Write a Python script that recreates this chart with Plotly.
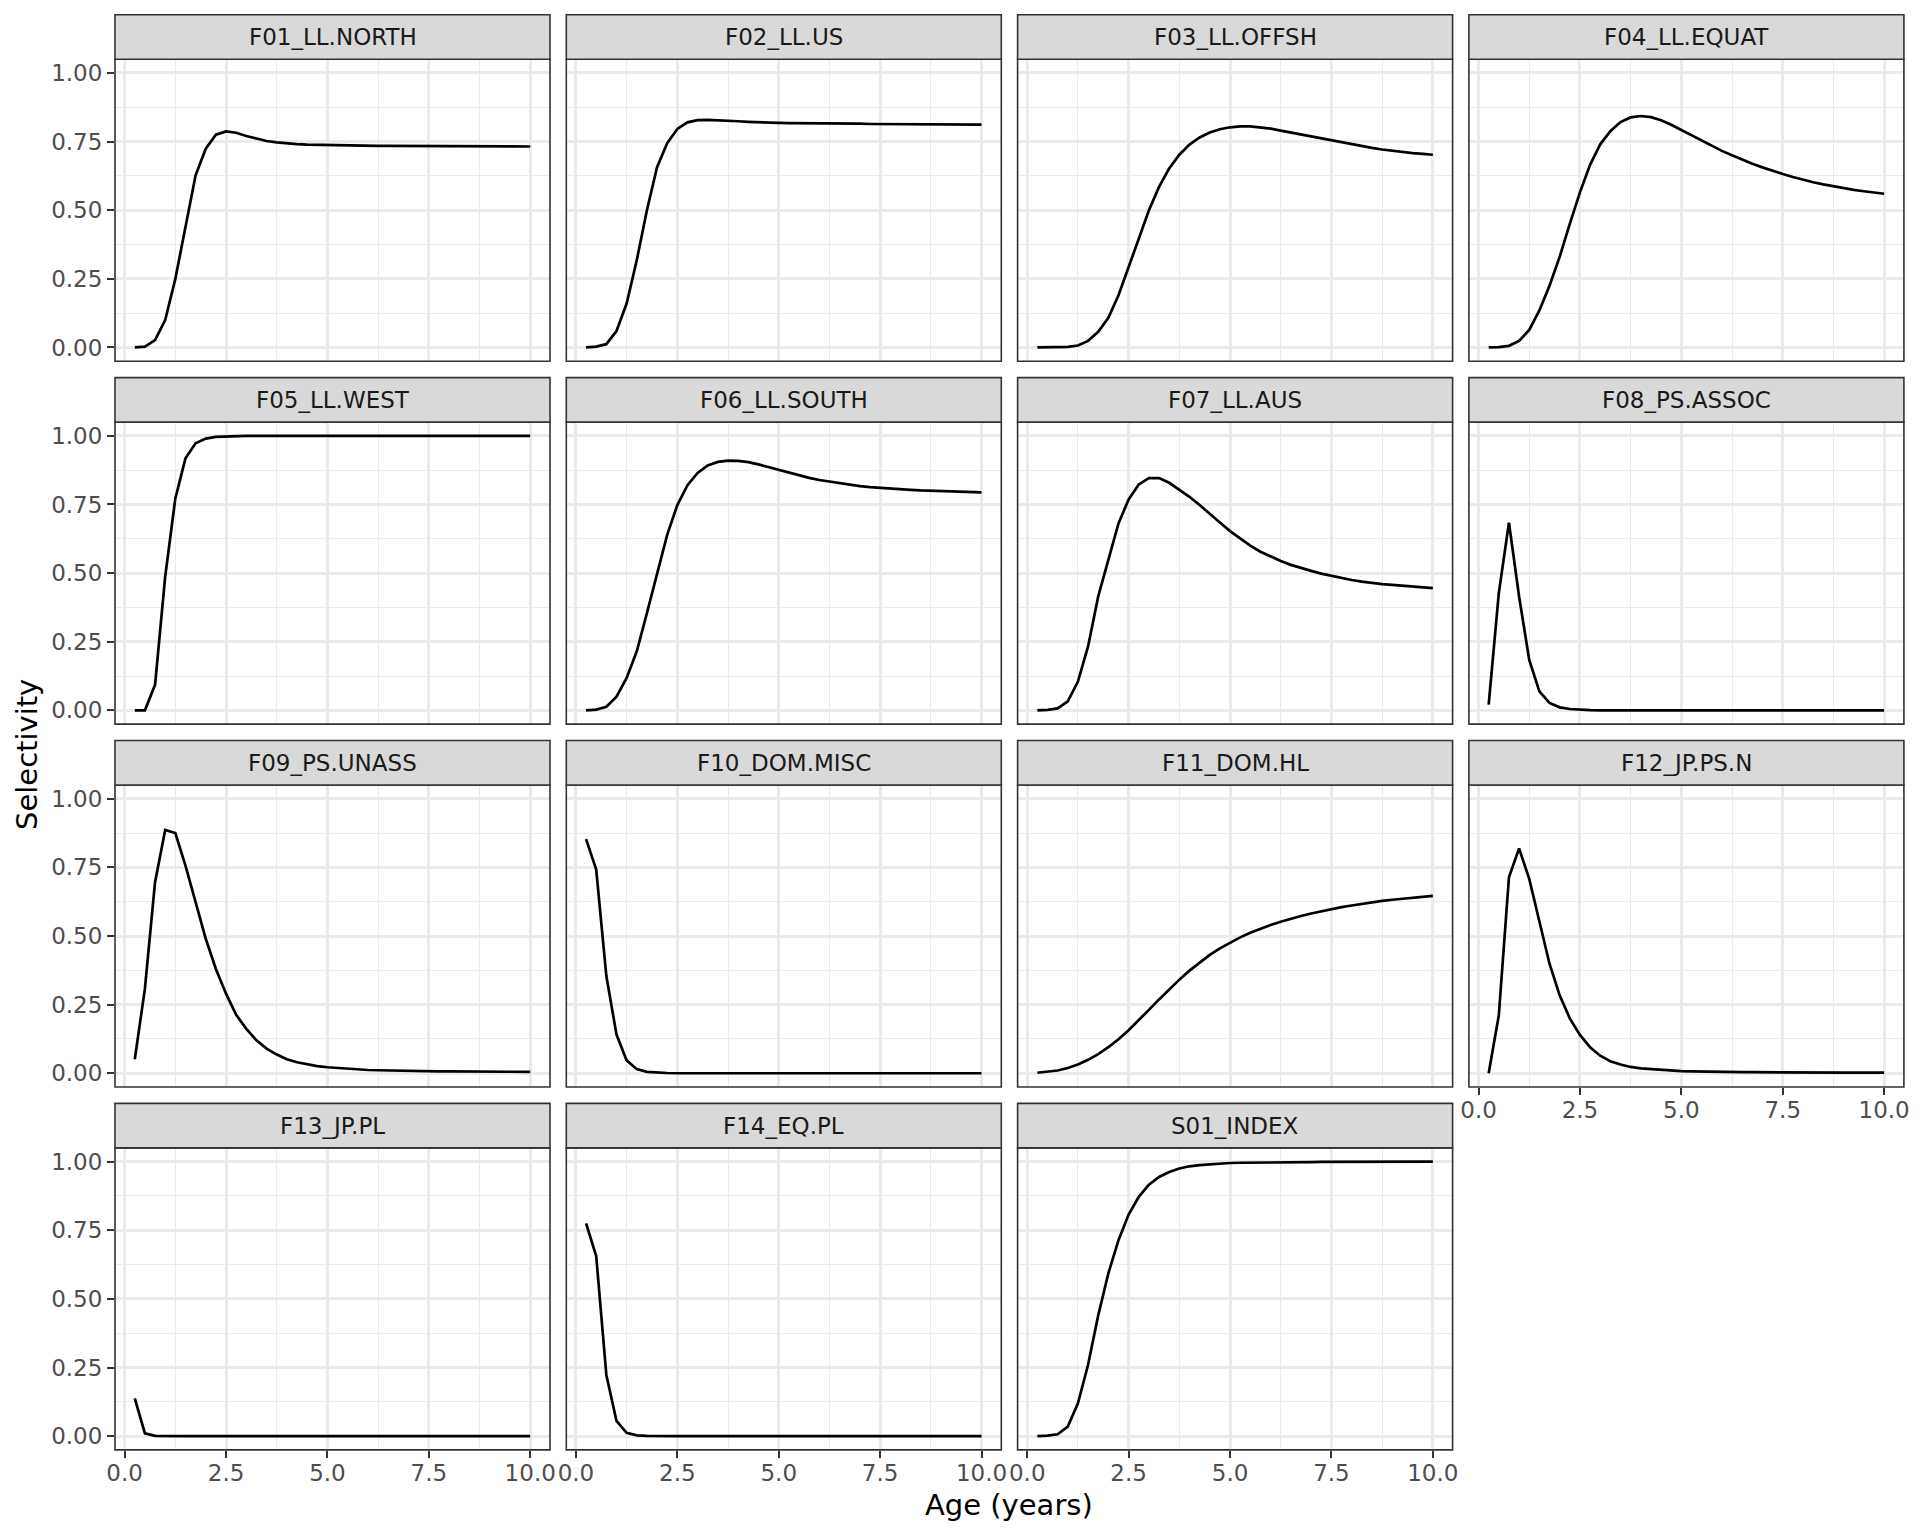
import plotly.graph_objects as go

W, H = 1920, 1536

age = [0.25, 0.5, 0.75, 1.0, 1.25, 1.5, 1.75, 2.0, 2.25, 2.5,
       2.75, 3.0, 3.25, 3.5, 3.75, 4.0, 4.25, 4.5, 4.75, 5.0,
       5.25, 5.5, 5.75, 6.0, 6.25, 6.5, 6.75, 7.0, 7.25, 7.5,
       7.75, 8.0, 8.25, 8.5, 8.75, 9.0, 9.25, 9.5, 9.75, 10.0]

panels = ["F01_LL.NORTH", "F02_LL.US", "F03_LL.OFFSH", "F04_LL.EQUAT",
          "F05_LL.WEST", "F06_LL.SOUTH", "F07_LL.AUS", "F08_PS.ASSOC",
          "F09_PS.UNASS", "F10_DOM.MISC", "F11_DOM.HL", "F12_JP.PS.N",
          "F13_JP.PL", "F14_EQ.PL", "S01_INDEX"]

sel_F01 = [0.000, 0.003, 0.027, 0.100, 0.250, 0.445, 0.627, 0.724, 0.775, 0.787,
           0.782, 0.770, 0.760, 0.752, 0.747, 0.743, 0.741, 0.739, 0.738, 0.737,
           0.736, 0.736, 0.735, 0.735, 0.734, 0.734, 0.734, 0.733, 0.733, 0.733,
           0.733, 0.733, 0.732, 0.732, 0.732, 0.732, 0.732, 0.732, 0.732, 0.732]
sel_F02 = [0.000, 0.003, 0.012, 0.060, 0.160, 0.318, 0.500, 0.657, 0.744, 0.796,
           0.820, 0.828, 0.829, 0.828, 0.826, 0.824, 0.822, 0.820, 0.819, 0.818,
           0.817, 0.817, 0.816, 0.816, 0.815, 0.815, 0.815, 0.815, 0.814, 0.814,
           0.814, 0.813, 0.813, 0.813, 0.813, 0.812, 0.812, 0.812, 0.812, 0.812]
sel_F03 = [0.000, 0.000, 0.000, 0.002, 0.007, 0.024, 0.057, 0.108, 0.190, 0.290,
           0.396, 0.500, 0.585, 0.652, 0.702, 0.739, 0.765, 0.783, 0.795, 0.802,
           0.805, 0.805, 0.802, 0.797, 0.790, 0.783, 0.776, 0.768, 0.761, 0.754,
           0.746, 0.739, 0.733, 0.727, 0.721, 0.716, 0.712, 0.708, 0.705, 0.702]
sel_F04 = [0.000, 0.001, 0.006, 0.024, 0.064, 0.135, 0.225, 0.330, 0.450, 0.565,
           0.665, 0.740, 0.788, 0.821, 0.838, 0.843, 0.839, 0.828, 0.811, 0.792,
           0.772, 0.752, 0.733, 0.716, 0.700, 0.684, 0.669, 0.656, 0.643, 0.632,
           0.621, 0.611, 0.602, 0.594, 0.587, 0.580, 0.574, 0.569, 0.564, 0.560]
sel_F05 = [0.000, 0.000, 0.093, 0.487, 0.772, 0.918, 0.973, 0.990, 0.996, 0.998,
           0.999, 1.000, 1.000, 1.000, 1.000, 1.000, 1.000, 1.000, 1.000, 1.000,
           1.000, 1.000, 1.000, 1.000, 1.000, 1.000, 1.000, 1.000, 1.000, 1.000,
           1.000, 1.000, 1.000, 1.000, 1.000, 1.000, 1.000, 1.000, 1.000, 1.000]
sel_F06 = [0.000, 0.003, 0.013, 0.050, 0.118, 0.215, 0.354, 0.493, 0.639, 0.748,
           0.820, 0.865, 0.892, 0.905, 0.910, 0.909, 0.904, 0.896, 0.886, 0.875,
           0.865, 0.856, 0.847, 0.839, 0.833, 0.827, 0.822, 0.817, 0.813, 0.810,
           0.807, 0.805, 0.803, 0.801, 0.800, 0.799, 0.798, 0.796, 0.795, 0.794]
sel_F07 = [0.000, 0.002, 0.007, 0.033, 0.105, 0.233, 0.415, 0.548, 0.681, 0.768,
           0.823, 0.846, 0.846, 0.829, 0.805, 0.778, 0.748, 0.715, 0.684, 0.653,
           0.627, 0.600, 0.578, 0.560, 0.544, 0.530, 0.518, 0.508, 0.498, 0.490,
           0.482, 0.475, 0.469, 0.464, 0.460, 0.457, 0.454, 0.451, 0.448, 0.445]
sel_F08 = [0.021, 0.427, 0.684, 0.415, 0.184, 0.069, 0.027, 0.011, 0.005, 0.002,
           0.001, 0.000, 0.000, 0.000, 0.000, 0.000, 0.000, 0.000, 0.000, 0.000,
           0.000, 0.000, 0.000, 0.000, 0.000, 0.000, 0.000, 0.000, 0.000, 0.000,
           0.000, 0.000, 0.000, 0.000, 0.000, 0.000, 0.000, 0.000, 0.000, 0.000]
sel_F09 = [0.051, 0.308, 0.696, 0.886, 0.875, 0.756, 0.623, 0.490, 0.380, 0.290,
           0.213, 0.162, 0.120, 0.090, 0.068, 0.051, 0.040, 0.032, 0.026, 0.022,
           0.019, 0.016, 0.014, 0.012, 0.011, 0.010, 0.009, 0.0085, 0.008, 0.0075,
           0.007, 0.007, 0.0065, 0.006, 0.006, 0.006, 0.0055, 0.0055, 0.005, 0.005]
sel_F10 = [0.853, 0.742, 0.354, 0.141, 0.047, 0.015, 0.005, 0.002, 0.001, 0.000,
           0.000, 0.000, 0.000, 0.000, 0.000, 0.000, 0.000, 0.000, 0.000, 0.000,
           0.000, 0.000, 0.000, 0.000, 0.000, 0.000, 0.000, 0.000, 0.000, 0.000,
           0.000, 0.000, 0.000, 0.000, 0.000, 0.000, 0.000, 0.000, 0.000, 0.000]
sel_F11 = [0.002, 0.005, 0.010, 0.019, 0.032, 0.049, 0.070, 0.095, 0.124, 0.157,
           0.193, 0.231, 0.269, 0.306, 0.341, 0.374, 0.404, 0.431, 0.455, 0.476,
           0.495, 0.512, 0.527, 0.540, 0.552, 0.563, 0.573, 0.582, 0.590, 0.598,
           0.605, 0.611, 0.617, 0.623, 0.628, 0.632, 0.636, 0.640, 0.643, 0.646]
sel_F12 = [0.000, 0.211, 0.714, 0.819, 0.708, 0.550, 0.399, 0.284, 0.200, 0.140,
           0.095, 0.064, 0.044, 0.032, 0.023, 0.018, 0.015, 0.012, 0.010, 0.008,
           0.007, 0.006, 0.0055, 0.005, 0.0045, 0.004, 0.004, 0.0035, 0.0035, 0.003,
           0.003, 0.003, 0.0025, 0.0025, 0.0025, 0.002, 0.002, 0.002, 0.002, 0.002]
sel_F13 = [0.138, 0.010, 0.001, 0.000, 0.000, 0.000, 0.000, 0.000, 0.000, 0.000,
           0.000, 0.000, 0.000, 0.000, 0.000, 0.000, 0.000, 0.000, 0.000, 0.000,
           0.000, 0.000, 0.000, 0.000, 0.000, 0.000, 0.000, 0.000, 0.000, 0.000,
           0.000, 0.000, 0.000, 0.000, 0.000, 0.000, 0.000, 0.000, 0.000, 0.000]
sel_F14 = [0.775, 0.656, 0.223, 0.056, 0.012, 0.003, 0.001, 0.000, 0.000, 0.000,
           0.000, 0.000, 0.000, 0.000, 0.000, 0.000, 0.000, 0.000, 0.000, 0.000,
           0.000, 0.000, 0.000, 0.000, 0.000, 0.000, 0.000, 0.000, 0.000, 0.000,
           0.000, 0.000, 0.000, 0.000, 0.000, 0.000, 0.000, 0.000, 0.000, 0.000]
sel_S01 = [0.000, 0.002, 0.007, 0.035, 0.120, 0.260, 0.440, 0.593, 0.714, 0.807,
           0.872, 0.916, 0.944, 0.962, 0.975, 0.983, 0.987, 0.990, 0.993, 0.995,
           0.996, 0.996, 0.997, 0.997, 0.998, 0.998, 0.998, 0.998, 0.999, 0.999,
           0.999, 0.999, 0.999, 0.999, 0.999, 1.000, 1.000, 1.000, 1.000, 1.000]

series = [sel_F01, sel_F02, sel_F03, sel_F04, sel_F05, sel_F06, sel_F07, sel_F08,
          sel_F09, sel_F10, sel_F11, sel_F12, sel_F13, sel_F14, sel_S01]

x_major = [0, 2.5, 5, 7.5, 10]
x_major_labels = ["0.0", "2.5", "5.0", "7.5", "10.0"]
x_minor = [1.25, 3.75, 6.25, 8.75]
y_major = [0, 0.25, 0.5, 0.75, 1.0]
y_major_labels = ["0.00", "0.25", "0.50", "0.75", "1.00"]
y_minor = [0.125, 0.375, 0.625, 0.875]

# layout geometry (pixels)
COL_LEFT0, COL_PITCH, PW = 115.0, 451.3, 435.0
ROW_TOP0, ROW_PITCH, STRIP_H, PH = 14.7, 362.9, 44.5, 302.0
NCOL = 4

FONT = "DejaVu Sans"
GRID = "#EBEBEB"
BORDER = "#333333"

fig = go.Figure()
shapes, annotations = [], []
layout_axes = {}

for i, name in enumerate(panels):
    r, c = divmod(i, NCOL)
    x0 = COL_LEFT0 + c * COL_PITCH
    x1 = x0 + PW
    st = ROW_TOP0 + r * ROW_PITCH
    pt = st + STRIP_H
    pb = pt + PH
    n = i + 1
    xa = "x" if n == 1 else f"x{n}"
    ya = "y" if n == 1 else f"y{n}"
    bottom = (r == 3) or (r == 2 and c == 3)
    left = (c == 0)

    fig.add_trace(go.Scatter(x=age, y=series[i], mode="lines",
                             line=dict(color="black", width=2.7),
                             xaxis=xa, yaxis=ya, showlegend=False,
                             hoverinfo="skip"))

    layout_axes["xaxis" if n == 1 else f"xaxis{n}"] = dict(
        domain=[x0 / W, x1 / W], anchor=ya, range=[-0.2375, 10.4875],
        automargin=False,
        tickmode="array", tickvals=x_major, ticktext=x_major_labels,
        showticklabels=bottom, ticks="outside" if bottom else "",
        ticklen=7, tickwidth=2.4, tickcolor=BORDER, ticklabelstandoff=-5,
        showgrid=True, gridcolor=GRID, gridwidth=2.6,
        minor=dict(tickvals=x_minor, showgrid=True, gridcolor=GRID,
                   gridwidth=1.3, ticks=""),
        zeroline=False, showline=False,
        tickfont=dict(family=FONT, size=23, color="#4D4D4D"),
    )
    layout_axes["yaxis" if n == 1 else f"yaxis{n}"] = dict(
        domain=[1 - pb / H, 1 - pt / H], anchor=xa, range=[-0.05, 1.05],
        automargin=False,
        tickmode="array", tickvals=y_major, ticktext=y_major_labels,
        showticklabels=left, ticks="outside" if left else "",
        ticklen=7, tickwidth=2.4, tickcolor=BORDER,
        showgrid=True, gridcolor=GRID, gridwidth=2.6,
        minor=dict(tickvals=y_minor, showgrid=True, gridcolor=GRID,
                   gridwidth=1.3, ticks=""),
        zeroline=False, showline=False,
        tickfont=dict(family=FONT, size=23, color="#4D4D4D"),
    )

    # panel border
    shapes.append(dict(type="rect", xref="paper", yref="paper",
                       x0=x0 / W, x1=x1 / W, y0=1 - pb / H, y1=1 - pt / H,
                       line=dict(color=BORDER, width=1.6),
                       fillcolor="rgba(0,0,0,0)", layer="above"))
    # strip
    shapes.append(dict(type="rect", xref="paper", yref="paper",
                       x0=x0 / W, x1=x1 / W, y0=1 - pt / H, y1=1 - st / H,
                       line=dict(color=BORDER, width=1.6),
                       fillcolor="#D9D9D9", layer="above"))
    annotations.append(dict(text=name, xref="paper", yref="paper",
                            x=(x0 + x1) / 2 / W, y=1 - (st + pt) / 2 / H,
                            xanchor="center", yanchor="middle", showarrow=False,
                            font=dict(family=FONT, size=23, color="#1A1A1A")))

annotations.append(dict(text="Age (years)", xref="paper", yref="paper",
                        x=(COL_LEFT0 + COL_LEFT0 + 3 * COL_PITCH + PW) / 2 / W,
                        y=1 - 1505 / H, xanchor="center", yanchor="middle",
                        showarrow=False,
                        font=dict(family=FONT, size=29, color="black")))
annotations.append(dict(text="Selectivity", xref="paper", yref="paper",
                        x=27 / W, y=1 - 755 / H, xanchor="center",
                        yanchor="middle", textangle=-90, showarrow=False,
                        font=dict(family=FONT, size=29, color="black")))

fig.update_layout(width=W, height=H, margin=dict(l=0, r=0, t=0, b=0),
                  paper_bgcolor="white", plot_bgcolor="white",
                  showlegend=False, shapes=shapes, annotations=annotations,
                  **layout_axes)

fig.write_html("out.html")
